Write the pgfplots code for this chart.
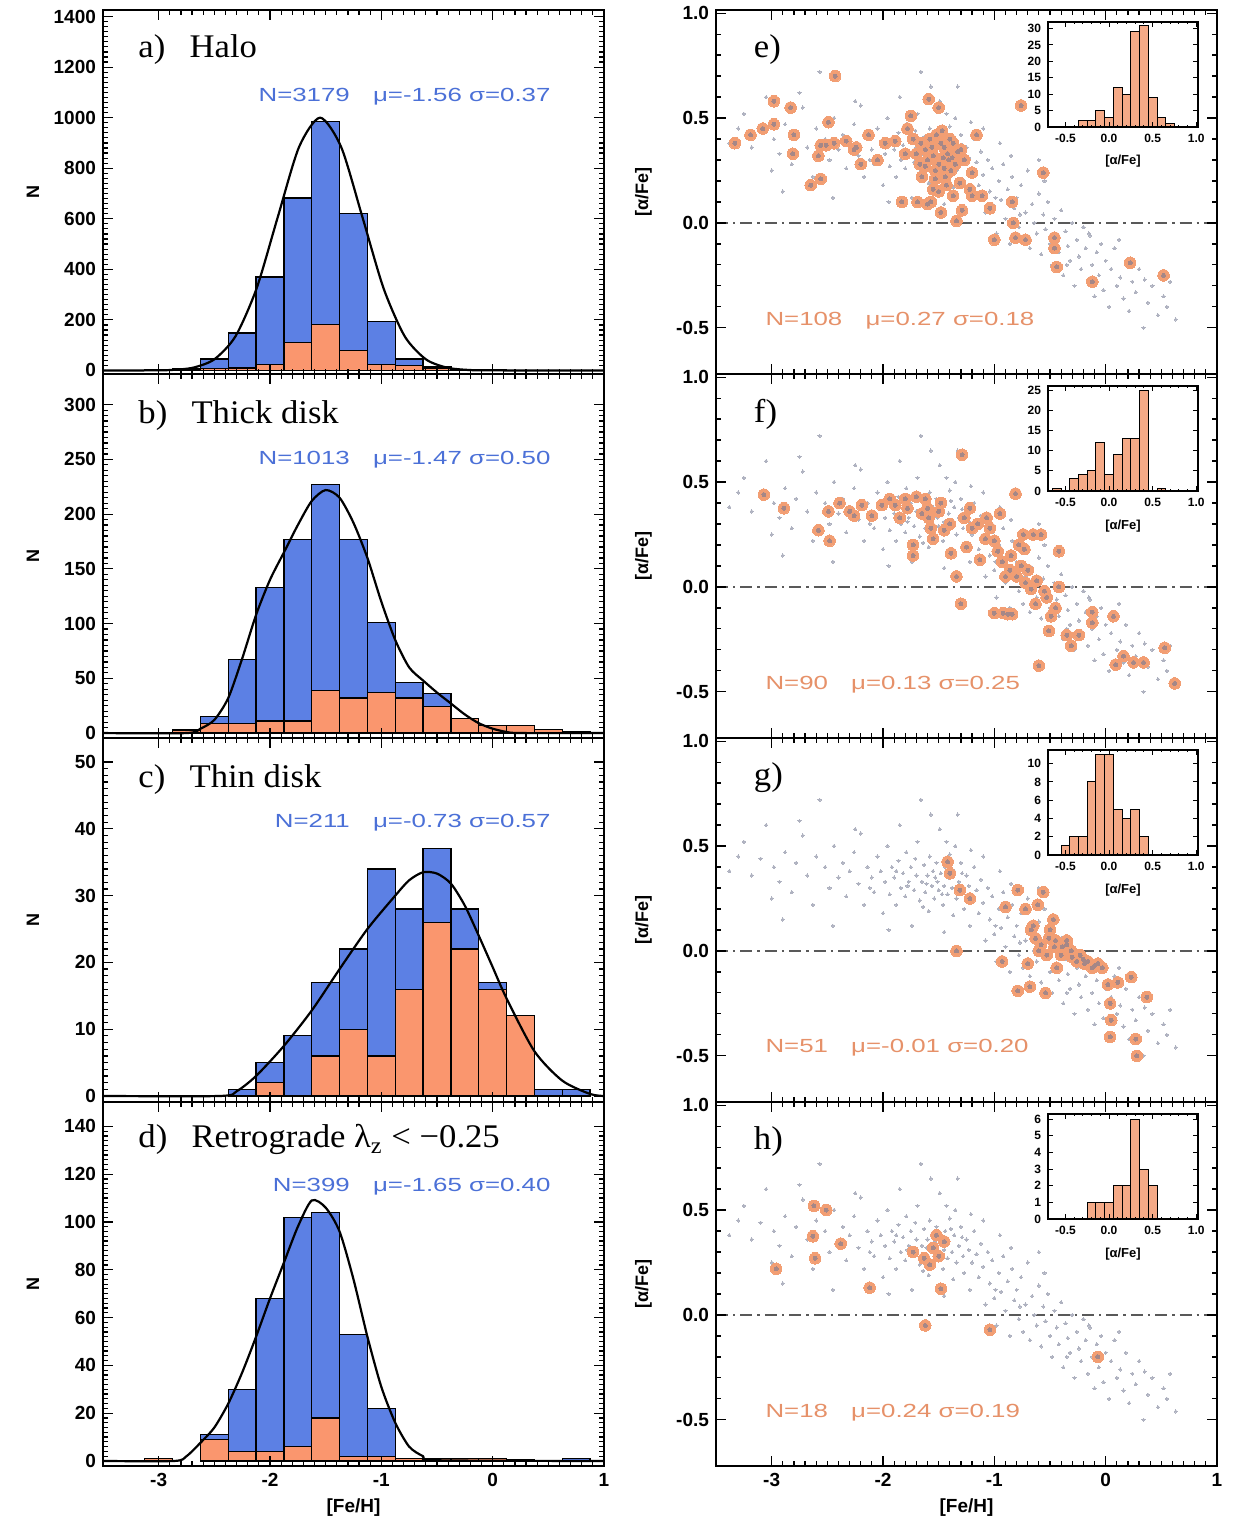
\documentclass[border=0pt]{standalone}
\usepackage{pgfplots}
\pgfplotsset{compat=1.18}
\usepackage{pgfplotstable}
\usepackage{graphicx}
\usepackage{fontspec}
\setmainfont{Liberation Serif}
\newfontfamily\idl{Liberation Sans}
\newfontfamily\lab{Liberation Serif}
\definecolor{hblue}{RGB}{92,128,228}
\definecolor{horange}{RGB}{250,150,110}
\definecolor{tblue}{RGB}{75,112,215}
\definecolor{torange}{RGB}{230,145,105}
\definecolor{sorange}{RGB}{242,158,115}
\definecolor{sgrey}{RGB}{175,178,192}
\definecolor{scenter}{RGB}{165,135,135}
\definecolor{ibar}{RGB}{245,170,135}

\pgfplotstableread{
x y
-3.38 0.38
-3.30 0.45
-3.25 0.52
-3.18 0.36
-3.10 0.44
-3.05 0.60
-2.98 0.40
-2.93 0.33
-2.88 0.47
-2.82 0.28
-2.78 0.42
-2.72 0.55
-2.68 0.36
-2.63 0.22
-2.60 0.45
-2.57 0.72
-2.52 0.40
-2.48 0.30
-2.44 0.50
-2.40 0.35
-2.36 0.42
-2.33 0.26
-2.30 0.38
-2.26 0.47
-2.22 0.32
-2.20 0.56
-2.17 0.22
-2.14 0.40
-2.10 0.35
-2.08 0.28
-2.05 0.45
-2.02 0.38
-2.00 0.18
-1.98 0.33
-1.96 0.50
-1.94 0.27
-1.92 0.40
-1.90 0.35
-1.88 0.22
-1.86 0.43
-1.84 0.30
-1.82 0.37
-1.80 0.26
-1.79 0.47
-1.77 0.33
-1.75 0.40
-1.74 0.12
-1.72 0.29
-1.70 0.36
-1.69 0.52
-1.67 0.24
-1.66 0.72
-1.65 0.33
-1.63 0.41
-1.62 0.28
-1.60 0.36
-1.59 0.19
-1.58 0.45
-1.56 0.31
-1.55 0.38
-1.54 0.25
-1.52 0.42
-1.51 0.33
-1.50 0.29
-1.49 0.58
-1.48 0.37
-1.46 0.22
-1.45 0.31
-1.44 0.40
-1.42 0.27
-1.41 0.35
-1.40 0.46
-1.38 0.30
-1.37 0.17
-1.36 0.38
-1.34 0.25
-1.33 0.65
-1.32 0.33
-1.30 0.42
-1.28 0.28
-1.27 0.20
-1.25 0.36
-1.23 0.31
-1.22 0.12
-1.20 0.25
-1.18 0.40
-1.16 0.29
-1.14 0.18
-1.12 0.34
-1.10 0.23
-1.08 0.05
-1.06 0.30
-1.04 0.15
-1.02 0.26
-1.00 0.08
-0.98 -0.05
-0.96 0.20
-0.94 0.11
-0.92 0.28
-0.90 0.02
-0.88 0.16
-0.86 -0.10
-0.84 0.22
-0.82 0.07
-0.80 0.12
-0.78 -0.02
-0.76 0.18
-0.74 -0.08
-0.72 0.05
-0.70 0.25
-0.68 -0.12
-0.66 0.09
-0.64 0.00
-0.62 -0.05
-0.60 0.14
-0.58 -0.15
-0.56 0.04
-0.54 -0.03
-0.52 0.10
-0.50 -0.10
-0.48 -0.20
-0.46 0.02
-0.44 -0.06
-0.42 -0.14
-0.40 0.06
-0.38 -0.25
-0.36 -0.04
-0.34 -0.11
-0.32 -0.18
-0.30 0.00
-0.28 -0.30
-0.26 -0.08
-0.24 -0.16
-0.22 -0.22
-0.20 -0.02
-0.18 -0.12
-0.16 -0.28
-0.14 -0.06
-0.12 -0.20
-0.10 -0.35
-0.08 -0.14
-0.06 -0.25
-0.04 -0.10
-0.02 -0.32
0.00 -0.18
0.03 -0.40
0.05 -0.22
0.08 -0.12
0.10 -0.30
0.13 -0.26
0.16 -0.36
0.18 -0.18
0.21 -0.42
0.24 -0.28
0.27 -0.33
0.30 -0.22
0.34 -0.50
0.38 -0.38
0.42 -0.30
0.47 -0.44
0.52 -0.35
0.58 -0.28
0.63 -0.46
-2.90 0.15
-2.45 0.12
-2.75 0.62
-1.85 0.60
-1.57 0.65
-1.95 0.10
-1.45 0.09
-1.35 0.50
-1.10 0.45
-0.95 0.38
-0.85 0.32
-0.60 0.30
-3.00 0.25
-2.25 0.58
-1.78 0.31
-1.71 0.44
-1.61 0.32
-1.53 0.35
-1.47 0.27
-1.39 0.41
-1.29 0.37
-1.64 0.21
-1.88 0.38
-2.12 0.30
-1.43 0.52
-1.21 0.48
-0.99 0.12
-0.77 0.04
-0.55 0.20
-0.35 -0.20
-0.15 -0.05
0.12 -0.08
0.35 -0.27
0.55 -0.40
}\greytab

\pgfplotstableread{
x y
-3.33 0.38
-3.19 0.42
-3.08 0.45
-2.98 0.47
-2.98 0.58
-2.81 0.33
-2.80 0.42
-2.83 0.55
-2.65 0.18
-2.56 0.21
-2.58 0.32
-2.56 0.37
-2.49 0.48
-2.43 0.70
-2.51 0.37
-2.44 0.38
-2.33 0.39
-2.24 0.36
-2.26 0.35
-2.13 0.42
-2.05 0.30
-1.98 0.38
-1.89 0.39
-1.83 0.10
-1.80 0.33
-1.78 0.45
-1.75 0.51
-1.69 0.10
-1.67 0.28
-1.66 0.38
-1.62 0.35
-1.59 0.59
-1.57 0.10
-1.55 0.16
-1.53 0.25
-1.52 0.42
-1.50 0.55
-1.48 0.05
-1.46 0.31
-1.45 0.36
-1.41 0.30
-1.39 0.25
-1.37 0.38
-1.37 0.13
-1.34 0.01
-1.31 0.19
-1.30 0.35
-1.29 0.06
-1.27 0.30
-1.22 0.16
-1.20 0.24
-1.16 0.42
-1.11 0.13
-1.04 0.07
-1.00 -0.08
-0.84 0.10
-0.83 0.00
-0.81 -0.07
-0.72 -0.08
-0.76 0.56
-0.56 0.24
-0.46 -0.07
-0.46 -0.12
-0.44 -0.21
-0.12 -0.28
0.22 -0.19
0.52 -0.25
-1.60 0.30
-1.55 0.32
-1.50 0.28
-1.45 0.26
-1.42 0.33
-1.48 0.38
-1.58 0.40
-1.40 0.40
-1.53 0.21
-1.35 0.28
-1.62 0.27
-1.70 0.33
-1.44 0.22
-1.33 0.34
-1.56 0.36
-1.47 0.44
-1.73 0.40
-1.38 0.31
-1.50 0.15
-1.60 0.09
-2.20 0.28
-1.20 0.13
-1.65 0.22
-1.43 0.18
}\orE

\pgfplotstableread{
x y
-3.07 0.44
-2.89 0.375
-2.58 0.27
-2.49 0.36
-2.48 0.22
-2.39 0.40
-2.26 0.34
-2.19 0.39
-2.01 0.39
-1.94 0.42
-1.89 0.39
-1.80 0.42
-1.78 0.375
-1.73 0.20
-1.73 0.15
-1.62 0.42
-1.60 0.375
-1.59 0.33
-1.57 0.28
-1.55 0.23
-1.50 0.36
-1.45 0.27
-1.39 0.16
-1.34 0.05
-1.30 -0.08
-1.29 0.63
-1.27 0.33
-1.25 0.19
-1.22 0.375
-1.13 0.13
-1.07 0.33
-1.04 0.28
-1.00 0.22
-1.00 -0.125
-0.97 0.17
-0.93 0.12
-0.92 -0.125
-0.86 0.08
-0.84 -0.13
-0.81 0.445
-0.78 0.20
-0.76 0.10
-0.74 0.25
-0.72 0.02
-0.70 0.08
-0.67 -0.01
-0.65 0.25
-0.63 -0.08
-0.60 -0.375
-0.58 0.25
-0.53 -0.05
-0.51 -0.21
-0.49 -0.14
-0.42 0.17
-0.42 0.00
-0.35 -0.23
-0.31 -0.28
-0.24 -0.23
-0.12 -0.12
-0.12 -0.17
0.07 -0.14
0.09 -0.37
0.16 -0.33
0.25 -0.36
0.34 -0.36
0.53 -0.29
0.62 -0.46
-1.65 0.35
-1.85 0.33
-1.40 0.30
-1.20 0.28
-1.08 0.23
-0.90 0.05
-0.88 -0.13
-0.80 0.05
-0.62 0.03
-0.55 -0.02
-0.45 -0.10
-0.73 0.18
-1.15 0.30
-0.85 0.15
-2.30 0.36
-2.10 0.34
-1.70 0.43
-1.48 0.40
-0.95 0.35
}\orF

\pgfplotstableread{
x y
-1.42 0.425
-1.40 0.37
-1.31 0.29
-1.22 0.25
-0.93 -0.05
-0.90 0.21
-0.79 0.29
-0.79 -0.19
-0.72 0.20
-0.70 -0.06
-0.68 -0.17
-0.67 0.10
-0.63 0.06
-0.61 0.22
-0.58 0.03
-0.56 0.28
-0.54 -0.20
-0.53 -0.02
-0.51 0.06
-0.47 0.15
-0.46 0.02
-0.44 -0.08
-0.39 0.02
-0.35 0.05
-0.31 0.00
-0.30 -0.03
-0.26 -0.05
-0.23 -0.02
-0.19 -0.06
-0.16 -0.05
-0.12 -0.08
-0.07 -0.06
-0.03 -0.08
0.02 -0.16
0.04 -0.25
0.05 -0.33
0.04 -0.41
0.11 -0.15
0.23 -0.125
0.27 -0.42
0.28 -0.50
0.37 -0.22
-1.34 0.00
-0.65 0.12
-0.50 0.10
-0.40 -0.02
-0.20 -0.04
-0.35 0.03
-0.10 -0.07
-0.60 0.00
-0.45 0.05
}\orG

\pgfplotstableread{
x y
-2.96 0.22
-2.62 0.52
-2.51 0.50
-2.63 0.375
-2.61 0.27
-2.38 0.34
-2.12 0.13
-1.62 -0.05
-1.48 0.125
-1.04 -0.07
-0.07 -0.20
-1.73 0.30
-1.55 0.32
-1.50 0.28
-1.63 0.27
-1.45 0.35
-1.58 0.24
-1.52 0.38
}\orH

\pgfplotsset{
  /pgf/number format/assume math mode=true,
  /pgf/number format/set thousands separator={},
  base/.style={scale only axis, width=250.5pt, height=182pt,
    xmin=-3.5, xmax=1, xtick={-3,-2,-1,0,1}, minor x tick num=9,
    tick align=inside, tick pos=both,
    major tick length=5pt, minor tick length=2.5pt,
    axis line style={line width=1pt},
    every tick/.style={black, line width=0.6pt},
    tick label style={font=\idl\bfseries\fontsize{9.5}{10}\selectfont},
    axis on top, clip=true, anchor=south west},
  hist/.style={base, minor y tick num=9, xticklabels={},
    ylabel={\idl\bfseries\fontsize{9}{10}\selectfont N},
    ylabel style={at={(axis description cs:-0.14,0.5)}, anchor=center}},
  scat/.style={base, ymin=-0.72, ymax=1.015, ytick={-0.5,0,0.5,1},
    minor y tick num=4, xticklabels={},
    yticklabel style={/pgf/number format/.cd, fixed, fixed zerofill, precision=1},
    ylabel={\idl\bfseries\fontsize{9}{10}\selectfont [α/Fe]},
    ylabel style={at={(axis description cs:-0.145,0.5)}, anchor=center}},
  botx/.style={xticklabels={-3,-2,-1,0,1},
    xlabel={\idl\bfseries\fontsize{9.5}{10}\selectfont [Fe/H]},
    xlabel style={at={(axis description cs:0.5,-0.115)}, anchor=center}},
  hb/.style={ybar, bar width=0.25, bar shift=0pt, fill=hblue, draw=black, line width=0.6pt},
  ho/.style={ybar, bar width=0.25, bar shift=0pt, fill=horange, draw=black, line width=0.6pt},
  curve/.style={black, line width=1.1pt, smooth, tension=0.45},
  zl/.style={draw=black!65, line width=0.8pt, dash pattern=on 6pt off 2.5pt on 1.2pt off 2.5pt},
  gdots/.style={only marks, color=sgrey, mark=*, mark size=0.8pt, mark options={solid, draw=sgrey, fill=sgrey, line width=0pt}},
  odots/.style={only marks, color=sorange, mark=*, mark size=2.9pt, mark options={solid, draw=sorange, fill=sorange, line width=0pt}},
  cdots/.style={only marks, color=scenter, mark=*, mark size=1.0pt, mark options={solid, draw=scenter, fill=scenter, line width=0pt}},
  inset/.style={scale only axis, width=75pt, height=52.5pt, anchor=south west,
    xmin=-0.7, xmax=1.02, ymin=0, xtick={-0.5,0,0.5,1},
    tick align=inside, tick pos=both, major tick length=2.5pt, minor tick length=1.2pt,
    minor x tick num=4,
    axis line style={line width=0.8pt},
    every tick/.style={black, line width=0.5pt},
    tick label style={font=\idl\bfseries\fontsize{6}{7}\selectfont},
    xticklabel style={/pgf/number format/.cd, fixed, fixed zerofill, precision=1},
    xlabel={\idl\bfseries\fontsize{6.5}{7}\selectfont [α/Fe]},
    xlabel style={at={(axis description cs:0.5,-0.33)}, anchor=center},
    axis background/.style={fill=white}, axis on top},
  ib/.style={ybar, bar width=0.1, bar shift=0pt, fill=ibar, draw=black, line width=0.5pt},
}

\newcommand{\statL}[1]{\scalebox{1.36}[1]{\idl\fontsize{9.5}{11}\selectfont #1}}
\newcommand{\panL}[1]{\scalebox{1.05}[1]{\lab\fontsize{16.5}{19}\selectfont #1}}

\begin{document}
\begin{tikzpicture}
\useasboundingbox (0,0) rectangle (616.5pt,763pt);

% ---------- a) Halo ----------
\begin{axis}[hist, at={(51.5pt,576pt)}, ymin=-14, ymax=1426, ytick={0,200,...,1400}]
\addplot[hb] coordinates {(-3.0,3) (-2.75,8) (-2.5,45) (-2.25,148) (-2.0,370) (-1.75,682) (-1.5,985) (-1.25,622) (-1.0,195) (-0.75,45) (-0.5,16) (-0.25,5) (0.0,2)};
\addplot[ho] coordinates {(-3.0,2) (-2.75,5) (-2.5,8) (-2.25,10) (-2.0,24) (-1.75,110) (-1.5,182) (-1.25,78) (-1.0,22) (-0.75,20) (-0.5,10) (-0.25,3) (0.0,1)};
\addplot[curve] coordinates {(-3.5,0) (-3.07,0.3) (-2.88,2) (-2.69,11) (-2.50,44) (-2.31,135) (-2.12,325) (-1.93,607) (-1.74,883) (-1.55,1000) (-1.36,883) (-1.17,607) (-0.98,325) (-0.79,135) (-0.60,44) (-0.41,11) (-0.22,2) (-0.03,0.3) (1.0,0)};
\node[anchor=west, inner sep=0pt] at (rel axis cs:0.07,0.89) {\panL{a)\hspace{0.7em}Halo}};
\node[anchor=east, inner sep=0pt, text=tblue] at (rel axis cs:0.894,0.762) {\statL{N=3179\hspace{0.9em}μ=-1.56 σ=0.37}};
\end{axis}

% ---------- b) Thick disk ----------
\begin{axis}[hist, at={(51.5pt,394pt)}, ymin=-4.5, ymax=328, ytick={0,50,...,300}]
\addplot[hb] coordinates {(-2.75,3) (-2.5,15) (-2.25,67) (-2.0,133) (-1.75,177) (-1.5,227) (-1.25,177) (-1.0,101) (-0.75,46) (-0.5,36) (-0.25,13) (0.0,7) (0.25,7) (0.5,3) (0.75,1)};
\addplot[ho] coordinates {(-2.75,2) (-2.5,9) (-2.25,9) (-2.0,11) (-1.75,11) (-1.5,39) (-1.25,32) (-1.0,37) (-0.75,32) (-0.5,24) (-0.25,13) (0.0,7) (0.25,7) (0.5,3) (0.75,1)};
\addplot[curve] coordinates {(-3.5,0) (-2.75,0) (-2.625,4) (-2.5,12) (-2.375,32) (-2.25,68) (-2.125,108) (-2.0,140) (-1.875,165) (-1.75,190) (-1.625,212) (-1.5,222) (-1.375,215) (-1.25,192) (-1.125,160) (-1.0,120) (-0.875,85) (-0.75,60) (-0.625,48) (-0.5,37) (-0.375,27) (-0.25,17) (-0.125,9) (0,4) (0.125,1) (0.25,0) (1.0,0)};
\node[anchor=west, inner sep=0pt] at (rel axis cs:0.07,0.887) {\panL{b)\hspace{0.7em}Thick disk}};
\node[anchor=east, inner sep=0pt, text=tblue] at (rel axis cs:0.894,0.764) {\statL{N=1013\hspace{0.9em}μ=-1.47 σ=0.50}};
\end{axis}

% ---------- c) Thin disk ----------
\begin{axis}[hist, at={(51.5pt,212pt)}, ymin=-0.9, ymax=53.6, ytick={0,10,...,50}]
\addplot[hb] coordinates {(-2.25,1) (-2.0,5) (-1.75,9) (-1.5,17) (-1.25,22) (-1.0,34) (-0.75,28) (-0.5,37) (-0.25,28) (0.0,17) (0.25,12) (0.5,1) (0.75,1)};
\addplot[ho] coordinates {(-2.0,2) (-1.5,6) (-1.25,10) (-1.0,6) (-0.75,16) (-0.5,26) (-0.25,22) (0.0,16) (0.25,12)};
\addplot[curve] coordinates {(-3.5,0) (-2.45,0) (-2.3,0.7) (-2.125,3) (-1.875,7.5) (-1.625,12.8) (-1.375,19) (-1.125,25) (-0.875,30) (-0.75,32.3) (-0.625,33.5) (-0.5,33.3) (-0.375,31.8) (-0.25,28.5) (-0.125,24) (0,19.3) (0.125,14.6) (0.375,6.7) (0.625,2.3) (0.875,0.3) (1.0,0)};
\node[anchor=west, inner sep=0pt] at (rel axis cs:0.07,0.885) {\panL{c)\hspace{0.7em}Thin disk}};
\node[anchor=east, inner sep=0pt, text=tblue] at (rel axis cs:0.894,0.766) {\statL{N=211\hspace{0.9em}μ=-0.73 σ=0.57}};
\end{axis}

% ---------- d) Retrograde ----------
\begin{axis}[hist, botx, at={(51.5pt,30pt)}, ymin=-2.1, ymax=150.2, ytick={0,20,...,140}]
\addplot[hb] coordinates {(-3.0,1) (-2.5,11) (-2.25,30) (-2.0,68) (-1.75,102) (-1.5,104) (-1.25,53) (-1.0,22) (-0.75,1) (-0.5,1) (-0.25,1) (0.0,1) (0.25,0.5) (0.75,1)};
\addplot[ho] coordinates {(-3.0,1) (-2.5,9) (-2.25,4) (-2.0,4) (-1.75,6) (-1.5,18) (-1.25,2) (-1.0,2) (-0.75,1) (-0.5,1) (-0.25,1) (0.0,1)};
\addplot[curve] coordinates {(-3.5,0) (-2.86,0) (-2.75,2) (-2.625,7.6) (-2.5,14) (-2.375,24) (-2.25,37) (-2.125,52) (-2.0,68) (-1.875,83) (-1.75,98) (-1.625,109) (-1.5,106) (-1.375,96) (-1.25,76) (-1.125,52) (-1.0,31) (-0.875,16) (-0.75,6) (-0.625,2) (-0.5,0.3) (1.0,0)};
\node[anchor=west, inner sep=0pt] at (rel axis cs:0.07,0.896) {\panL{d)\hspace{0.7em}Retrograde λ\textsubscript{z} < −0.25}};
\node[anchor=east, inner sep=0pt, text=tblue] at (rel axis cs:0.894,0.766) {\statL{N=399\hspace{0.9em}μ=-1.65 σ=0.40}};
\end{axis}

% ---------- e ----------
\begin{axis}[scat, at={(358pt,576pt)}]
\addplot[zl] coordinates {(-3.5,0) (1,0)};
\addplot[gdots] table {\greytab};
\addplot[odots] table {\orE};
\addplot[cdots] table {\orE};
\node[anchor=west, inner sep=0pt] at (rel axis cs:0.075,0.89) {\panL{e)}};
\node[anchor=west, inner sep=0pt, text=torange] at (rel axis cs:0.098,0.146) {\statL{N=108\hspace{0.9em}μ=0.27 σ=0.18}};
\end{axis}
\begin{axis}[inset, at={(524pt,699.5pt)}, ymax=32, ytick={0,5,...,30}]
\addplot[ib] coordinates {(-0.3,2) (-0.2,2) (-0.1,5) (0.0,3) (0.1,12) (0.2,10) (0.3,29) (0.4,31) (0.5,9) (0.6,3) (0.7,1)};
\end{axis}

% ---------- f ----------
\begin{axis}[scat, at={(358pt,394pt)}]
\addplot[zl] coordinates {(-3.5,0) (1,0)};
\addplot[gdots] table {\greytab};
\addplot[odots] table {\orF};
\addplot[cdots] table {\orF};
\node[anchor=west, inner sep=0pt] at (rel axis cs:0.075,0.89) {\panL{f)}};
\node[anchor=west, inner sep=0pt, text=torange] at (rel axis cs:0.098,0.146) {\statL{N=90\hspace{0.9em}μ=0.13 σ=0.25}};
\end{axis}
\begin{axis}[inset, at={(524pt,517.5pt)}, ymax=26, ytick={0,5,...,25}]
\addplot[ib] coordinates {(-0.6,0.5) (-0.4,3) (-0.3,4) (-0.2,5) (-0.1,12) (0.0,4) (0.1,9) (0.2,13) (0.3,13) (0.4,25) (0.6,0.5)};
\end{axis}

% ---------- g ----------
\begin{axis}[scat, at={(358pt,212pt)}]
\addplot[zl] coordinates {(-3.5,0) (1,0)};
\addplot[gdots] table {\greytab};
\addplot[odots] table {\orG};
\addplot[cdots] table {\orG};
\node[anchor=west, inner sep=0pt] at (rel axis cs:0.075,0.89) {\panL{g)}};
\node[anchor=west, inner sep=0pt, text=torange] at (rel axis cs:0.098,0.148) {\statL{N=51\hspace{0.9em}μ=-0.01 σ=0.20}};
\end{axis}
\begin{axis}[inset, at={(524pt,335.5pt)}, ymax=11.5, ytick={0,2,...,10}]
\addplot[ib] coordinates {(-0.5,1) (-0.4,2) (-0.3,2) (-0.2,8) (-0.1,11) (0.0,11) (0.1,5) (0.2,4) (0.3,5) (0.4,2)};
\end{axis}

% ---------- h ----------
\begin{axis}[scat, botx, at={(358pt,30pt)}]
\addplot[zl] coordinates {(-3.5,0) (1,0)};
\addplot[gdots] table {\greytab};
\addplot[odots] table {\orH};
\addplot[cdots] table {\orH};
\node[anchor=west, inner sep=0pt] at (rel axis cs:0.075,0.89) {\panL{h)}};
\node[anchor=west, inner sep=0pt, text=torange] at (rel axis cs:0.098,0.146) {\statL{N=18\hspace{0.9em}μ=0.24 σ=0.19}};
\end{axis}
\begin{axis}[inset, at={(524pt,153.5pt)}, ymax=6.3, ytick={0,1,...,6}]
\addplot[ib] coordinates {(-0.2,1) (-0.1,1) (0.0,1) (0.1,2) (0.2,2) (0.3,6) (0.4,3) (0.5,2)};
\end{axis}
\end{tikzpicture}
\end{document}
